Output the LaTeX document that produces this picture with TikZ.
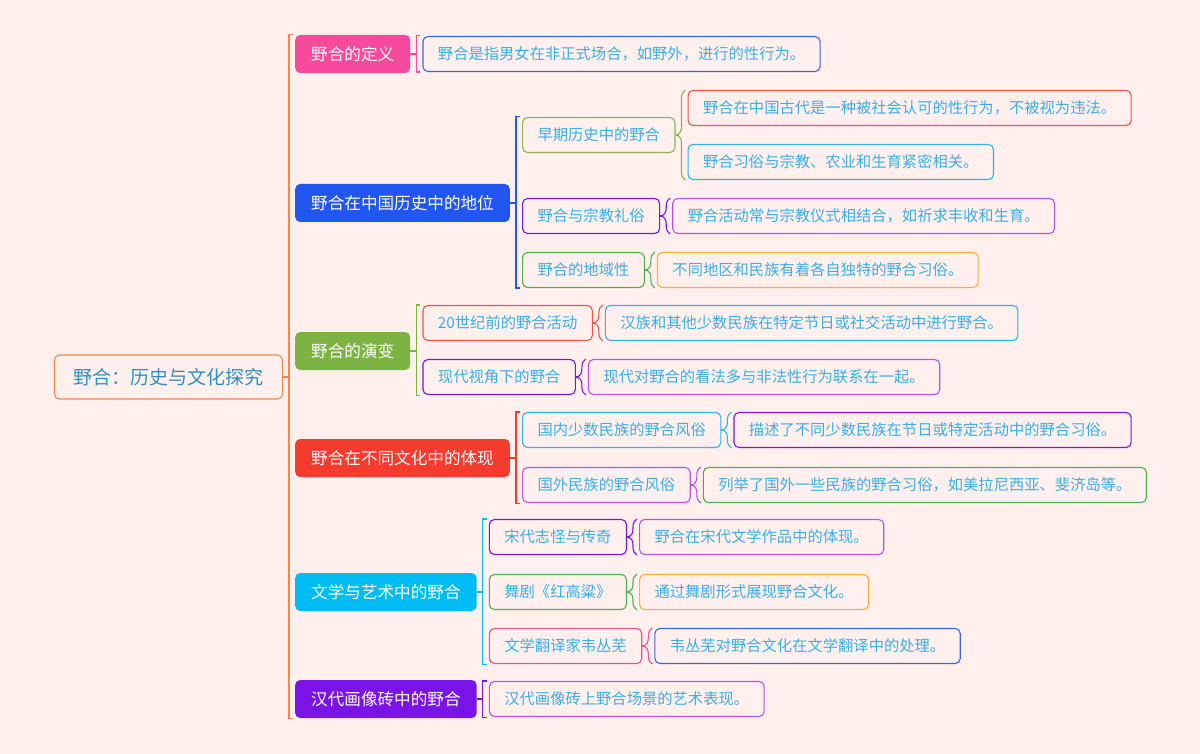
\documentclass[tikz,border=0pt]{standalone}
\usepackage{fontspec}
\setmainfont{Noto Sans CJK SC}
\usetikzlibrary{decorations.pathreplacing,positioning}
\definecolor{bg}{HTML}{FFF0EE}
\definecolor{rootbd}{HTML}{F4874B}
\definecolor{roottxt}{HTML}{2F8FC0}
\definecolor{txtb}{HTML}{3AAEE6}
\definecolor{cpink}{HTML}{F84A9C}
\definecolor{cblue}{HTML}{2256F2}
\definecolor{cgreen}{HTML}{7CB342}
\definecolor{cred}{HTML}{F53B2E}
\definecolor{ccyan}{HTML}{00BCF5}
\definecolor{cpurple}{HTML}{7913E8}
\definecolor{olive}{HTML}{8DB255}
\definecolor{lpurple}{HTML}{B354F0}
\definecolor{green2}{HTML}{4CAF50}
\definecolor{orange2}{HTML}{FBB03B}
\definecolor{red2}{HTML}{F0534A}
\definecolor{cyan2}{HTML}{2CB4EC}
\definecolor{pink2}{HTML}{EE4F8F}
\definecolor{blue2}{HTML}{4062E0}
\tikzset{
  rootbox/.style={rounded corners=5pt, draw=rootbd, line width=1.1pt, fill=bg, text=roottxt,
    font=\fontsize{19}{21}\selectfont, minimum height=44pt, inner xsep=19pt, inner ysep=0pt, anchor=east},
  lone/.style={rounded corners=5pt, fill=#1, text=white, font=\fontsize{16.6}{18}\selectfont,
    minimum height=38pt, inner xsep=16pt, inner ysep=0pt, anchor=west},
  ltwo/.style={rounded corners=5pt, draw=#1, line width=1.1pt, fill=bg, text=txtb,
    font=\fontsize{15.3}{17}\selectfont, minimum height=35pt, inner xsep=15pt, inner ysep=0pt, anchor=west},
  lnk/.style={line width=1.1pt}
}
\newcommand\sqbr[4]{%
  \draw[lnk,#1] (#2.east) -- ++(6pt,0);
  \draw[lnk,#1] ([xshift=-2pt]#3.north west) -- ([xshift=-6pt]#3.north west) -- ([xshift=-6pt]#4.south west) -- ([xshift=-2pt]#4.south west);}
\newcommand\cbr[4]{%
  \draw[lnk,#1] (#2.east) -- ++(2pt,0);
  \draw[lnk,#1,decorate,decoration={brace,amplitude=8pt}] ([xshift=-2pt]#4.south west) -- ([xshift=-2pt]#3.north west);}
\begin{document}
\begin{tikzpicture}[x=1pt,y=-1pt]
\fill[bg] (0,0) rectangle (1200,754);
\useasboundingbox (0,0) rectangle (1200,754);
\node[rootbox] (r) at (283,377) {野合：历史与文化探究};
\node[lone=cpink] (n1) at (295,54) {野合的定义};
\node[lone=cblue] (n2) at (295,203) {野合在中国历史中的地位};
\node[lone=cgreen] (n3) at (295,351) {野合的演变};
\node[lone=cred] (n4) at (295,458) {野合在不同文化中的体现};
\node[lone=ccyan] (n5) at (295,592) {文学与艺术中的野合};
\node[lone=cpurple] (n6) at (295,699) {汉代画像砖中的野合};
\sqbr{rootbd}{r}{n1}{n6}
% level 2
\node[ltwo=blue2, right=12pt of n1] (a1) {野合是指男女在非正式场合，如野外，进行的性行为。};
\sqbr{cpink}{n1}{a1}{a1}
\node[ltwo=olive, right=12pt of n2, yshift=68pt] (b1) {早期历史中的野合};
\node[ltwo=cpurple, right=12pt of n2, yshift=-13pt] (b2) {野合与宗教礼俗};
\node[ltwo=green2, right=12pt of n2, yshift=-67pt] (b3) {野合的地域性};
\sqbr{cblue}{n2}{b1}{b3}
\node[ltwo=red2, right=12pt of n3, yshift=28pt] (c1) {20世纪前的野合活动};
\node[ltwo=cpurple, right=12pt of n3, yshift=-26pt] (c2) {现代视角下的野合};
\sqbr{cgreen}{n3}{c1}{c2}
\node[ltwo=cyan2, right=12pt of n4, yshift=28pt] (d1) {国内少数民族的野合风俗};
\node[ltwo=lpurple, right=12pt of n4, yshift=-27pt] (d2) {国外民族的野合风俗};
\sqbr{cred}{n4}{d1}{d2}
\node[ltwo=cpurple, right=12pt of n5, yshift=55pt] (e1) {宋代志怪与传奇};
\node[ltwo=green2, right=12pt of n5] (e2) {舞剧《红高粱》};
\node[ltwo=pink2, right=12pt of n5, yshift=-54pt] (e3) {文学翻译家韦丛芜};
\sqbr{ccyan}{n5}{e1}{e3}
\node[ltwo=lpurple, right=12pt of n6] (f1) {汉代画像砖上野合场景的艺术表现。};
\sqbr{cpurple}{n6}{f1}{f1}
% level 3
\node[ltwo=red2, right=12pt of b1, yshift=27pt] (b11) {野合在中国古代是一种被社会认可的性行为，不被视为违法。};
\node[ltwo=cyan2, right=12pt of b1, yshift=-27pt] (b12) {野合习俗与宗教、农业和生育紧密相关。};
\cbr{olive}{b1}{b11}{b12}
\node[ltwo=lpurple, right=12pt of b2] (b21) {野合活动常与宗教仪式相结合，如祈求丰收和生育。};
\cbr{cpurple}{b2}{b21}{b21}
\node[ltwo=orange2, right=12pt of b3] (b31) {不同地区和民族有着各自独特的野合习俗。};
\cbr{green2}{b3}{b31}{b31}
\node[ltwo=cyan2, right=12pt of c1] (c11) {汉族和其他少数民族在特定节日或社交活动中进行野合。};
\cbr{red2}{c1}{c11}{c11}
\node[ltwo=lpurple, right=12pt of c2] (c21) {现代对野合的看法多与非法性行为联系在一起。};
\cbr{cpurple}{c2}{c21}{c21}
\node[ltwo=cpurple, right=12pt of d1] (d11) {描述了不同少数民族在节日或特定活动中的野合习俗。};
\cbr{cyan2}{d1}{d11}{d11}
\node[ltwo=green2, right=12pt of d2] (d21) {列举了国外一些民族的野合习俗，如美拉尼西亚、斐济岛等。};
\cbr{lpurple}{d2}{d21}{d21}
\node[ltwo=lpurple, right=12pt of e1] (e11) {野合在宋代文学作品中的体现。};
\cbr{cpurple}{e1}{e11}{e11}
\node[ltwo=orange2, right=12pt of e2] (e21) {通过舞剧形式展现野合文化。};
\cbr{green2}{e2}{e21}{e21}
\node[ltwo=blue2, right=12pt of e3] (e31) {韦丛芜对野合文化在文学翻译中的处理。};
\cbr{pink2}{e3}{e31}{e31}
\end{tikzpicture}
\end{document}
